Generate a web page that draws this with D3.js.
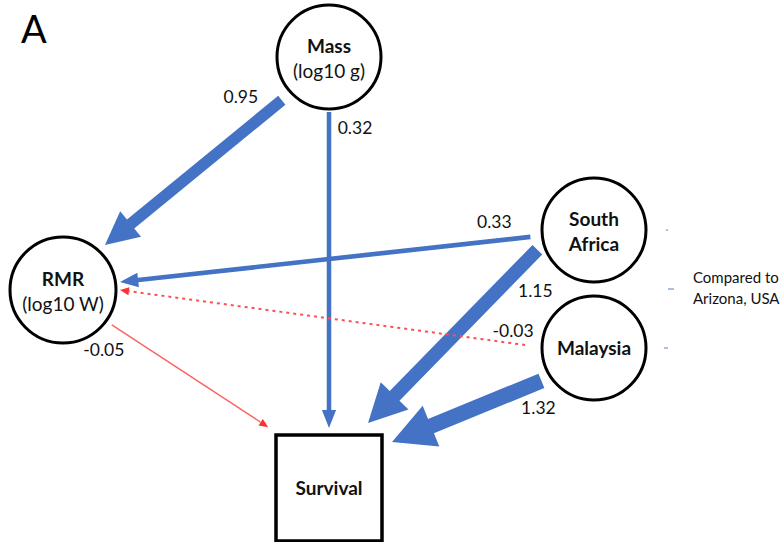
<!DOCTYPE html>
<html>
<head>
<meta charset="utf-8">
<script src="https://cdn.jsdelivr.net/npm/d3@7"></script>
<style>
    body { margin: 0; background: #fff; }
    text { font-family: Lato, "Open Sans", sans-serif; }
</style>
</head>
<body>
<div id="chart"></div>
<script>
// Path model data
var nodeNames = ["Mass", "RMR", "South Africa", "Malaysia", "Survival"];
var nodeLines = [["Mass", "(log10 g)"], ["RMR", "(log10 W)"], ["South", "Africa"], ["Malaysia"], ["Survival"]];
var edgeFrom = ["Mass", "Mass", "South Africa", "Malaysia", "RMR", "South Africa", "Malaysia"];
var edgeTo = ["RMR", "Survival", "RMR", "RMR", "Survival", "Survival", "Survival"];
var edgeCoef = [0.95, 0.32, 0.33, -0.03, -0.05, 1.15, 1.32];
var edgeSignificant = [true, true, true, false, true, true, true];
var noteLines = ["Compared to", "Arizona, USA"];

function init() {
    var w = 784;
    var h = 542;

    // layout of the diagram (centres and sizes of nodes)
    var layout = {
        "Mass": { x: 329, y: 57, r: 52 },
        "RMR": { x: 63, y: 290, r: 53 },
        "South Africa": { x: 594, y: 230, r: 52 },
        "Malaysia": { x: 594, y: 348, r: 52 },
        "Survival": { x: 329, y: 488, box: 106 }
    };

    // where each arrow leaves / meets its node: [angle, distance] from the centre, label offset
    var ports = [
        { s: [137.5, 64], t: [-47, 61.5], lab: [-41, -2] },
        { s: [90, 55], t: [-90, 60], lab: [26, 18] },
        { s: [173.8, 64], t: [-8, 57.6], lab: [-36, -13] },
        { s: [182.5, 69], t: [0, 57], lab: [-12, -12] },
        { s: [35.5, 60], t: [-135, 86], lab: [-8, 27] },
        { s: [160.7, 60], t: [-59, 75.8], lab: [-2, 43] },
        { s: [148, 62], t: [-36.1, 78], lab: [-3, 29] }
    ];

    var blue = "#4472c4";
    var red = "#ff3030";

    // line width from the size of the coefficient
    var widthScale = d3.scaleLinear()
        .domain([0, 1.32])
        .range([1, 15.5]);

    var fmt = d3.format(".2f");

    var svg = d3.select("#chart")
        .append("svg")
        .attr("width", w)
        .attr("height", h);

    function polar(node, p) {
        var a = p[0] * Math.PI / 180;
        return [layout[node].x + Math.cos(a) * p[1], layout[node].y + Math.sin(a) * p[1]];
    }

    var edges = edgeCoef.map(function(c, i) {
        return {
            from: edgeFrom[i], to: edgeTo[i], coef: c, sig: edgeSignificant[i],
            start: polar(edgeFrom[i], ports[i].s),
            end: polar(edgeTo[i], ports[i].t),
            lab: ports[i].lab
        };
    });

    // build arrow polygon (shaft + head)
    function arrowPoints(d, withShaft) {
        var lw = d.coef < 0 ? (d.sig ? 1.4 : 2) : widthScale(d.coef);
        var hl = d.coef < 0 ? 9 : 8 + 2.2 * lw;
        var hw = d.coef < 0 ? 8 : 2 + 2.7 * lw;
        var sx = d.start[0], sy = d.start[1], tx = d.end[0], ty = d.end[1];
        var len = Math.hypot(tx - sx, ty - sy);
        var ux = (tx - sx) / len, uy = (ty - sy) / len;
        var nx = -uy, ny = ux;
        var bx = tx - ux * hl, by = ty - uy * hl;
        var pts = [];
        if (withShaft) {
            pts.push([sx + nx * lw / 2, sy + ny * lw / 2]);
            pts.push([bx + nx * lw / 2, by + ny * lw / 2]);
        }
        pts.push([bx + nx * hw / 2, by + ny * hw / 2]);
        pts.push([tx, ty]);
        pts.push([bx - nx * hw / 2, by - ny * hw / 2]);
        if (withShaft) {
            pts.push([bx - nx * lw / 2, by - ny * lw / 2]);
            pts.push([sx - nx * lw / 2, sy - ny * lw / 2]);
        }
        d.lw = lw; d.base = [bx, by];
        return pts.map(function(p) { return p.join(","); }).join(" ");
    }

    var edgeG = svg.append("g").attr("class", "edges");

    // positive paths: filled blue arrows; negative: thin red lines
    edgeG.selectAll("polygon.pos")
        .data(edges.filter(function(d) { return d.coef > 0; }))
        .enter()
        .append("polygon")
        .attr("class", "pos")
        .attr("points", function(d) { return arrowPoints(d, true); })
        .attr("fill", blue);

    var neg = edges.filter(function(d) { return d.coef < 0; });

    edgeG.selectAll("polygon.neg")
        .data(neg)
        .enter()
        .append("polygon")
        .attr("class", "neg")
        .attr("points", function(d) { return arrowPoints(d, false); })
        .attr("fill", red);

    edgeG.selectAll("line.neg")
        .data(neg)
        .enter()
        .append("line")
        .attr("x1", function(d) { return d.start[0]; })
        .attr("y1", function(d) { return d.start[1]; })
        .attr("x2", function(d) { return d.base[0]; })
        .attr("y2", function(d) { return d.base[1]; })
        .attr("stroke", function(d) { return d.sig ? "#ff6060" : "#ff5050"; })
        .attr("stroke-width", function(d) { return d.lw; })
        .attr("stroke-dasharray", function(d) { return d.sig ? null : "3,4"; });

    // coefficient labels (plain hyphen for negatives, as in the figure)
    svg.selectAll("text.coef")
        .data(edges)
        .enter()
        .append("text")
        .attr("class", "coef")
        .attr("x", function(d) { return d.start[0] + d.lab[0]; })
        .attr("y", function(d) { return d.start[1] + d.lab[1]; })
        .attr("text-anchor", "middle")
        .attr("dominant-baseline", "middle")
        .style("font-size", "17.5px")
        .attr("fill", "#111")
        .text(function(d) { return fmt(d.coef).replace("\u2212", "-"); });

    // nodes
    var nodes = nodeNames.map(function(n, i) { return { name: n, lines: nodeLines[i], pos: layout[n] }; });

    var nodeG = svg.selectAll("g.node")
        .data(nodes)
        .enter()
        .append("g")
        .attr("class", "node")
        .attr("transform", function(d) { return "translate(" + d.pos.x + "," + d.pos.y + ")"; });

    nodeG.filter(function(d) { return !d.pos.box; })
        .append("circle")
        .attr("r", function(d) { return d.pos.r; })
        .attr("fill", "#fff")
        .attr("stroke", "#000")
        .attr("stroke-width", 3);

    nodeG.filter(function(d) { return d.pos.box; })
        .append("rect")
        .attr("x", function(d) { return -d.pos.box / 2; })
        .attr("y", function(d) { return -d.pos.box / 2; })
        .attr("width", function(d) { return d.pos.box; })
        .attr("height", function(d) { return d.pos.box; })
        .attr("fill", "#fff")
        .attr("stroke", "#000")
        .attr("stroke-width", 3.5);

    nodeG.each(function(d) {
        var g = d3.select(this);
        var isTwo = d.lines.length > 1;
        var bothBold = d.name === "South Africa";
        d.lines.forEach(function(line, k) {
            g.append("text")
                .attr("x", 0)
                .attr("y", isTwo ? (k === 0 ? -4 : 21) : 7)
                .attr("text-anchor", "middle")
                .style("font-size", "19px")
                .style("font-weight", (k === 0 || bothBold) ? "bold" : "normal")
                .attr("fill", "#111")
                .text(line);
        });
    });

    // note for the country comparison
    var note = layout["South Africa"];
    var noteY = (layout["South Africa"].y + layout["Malaysia"].y) / 2;
    svg.selectAll("text.note")
        .data(noteLines)
        .enter()
        .append("text")
        .attr("class", "note")
        .attr("x", note.x + 99)
        .attr("y", function(d, i) { return noteY - 6 + i * 21; })
        .style("font-size", "15px")
        .attr("fill", "#111")
        .text(function(d) { return d; });

    // faint remains of the bracket
    var marks = [[note.x + 72, layout["South Africa"].y, 2], [note.x + 74, noteY, 6], [note.x + 70, layout["Malaysia"].y, 4]];
    svg.selectAll("line.mark")
        .data(marks)
        .enter()
        .append("line")
        .attr("x1", function(d) { return d[0]; })
        .attr("x2", function(d) { return d[0] + d[2]; })
        .attr("y1", function(d) { return d[1]; })
        .attr("y2", function(d) { return d[1]; })
        .attr("stroke", "#8faadc")
        .attr("stroke-width", 1.5);

    // panel letter
    svg.append("text")
        .attr("x", 21)
        .attr("y", 43)
        .style("font-size", "38px")
        .attr("fill", "#000")
        .text("A");
}

window.onload = init;
</script>
</body>
</html>
